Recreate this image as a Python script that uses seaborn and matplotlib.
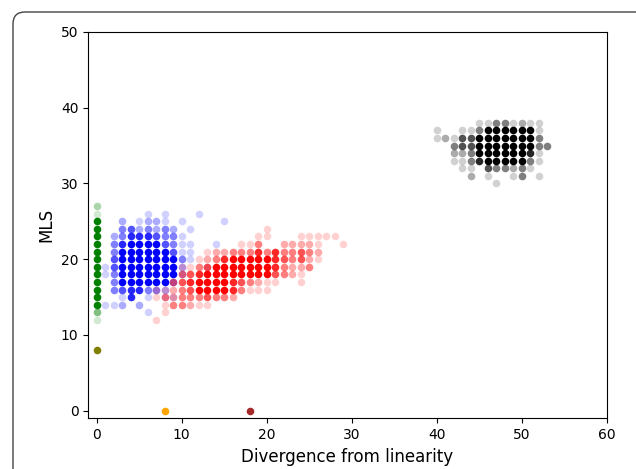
import matplotlib
matplotlib.use("Agg")
import matplotlib.pyplot as plt
from matplotlib.patches import FancyBboxPatch
from matplotlib.transforms import IdentityTransform
import seaborn as sns
import pandas as pd

# ---- data: intensity levels (1 = faint ... 6 = solid) on an integer grid ----
BLUE_X0 = 0
BLUE_ROWS = {
    26: "......1.1...1...",
    25: "...2.1221.1....1",
    24: "...3423232.1....",
    23: "..235554331.....",
    22: "..3566664311..1.",
    21: "..3666666411....",
    20: "..4666666631....",
    19: ".1466666662..1..",
    18: ".1366666662.....",
    17: "..36666663......",
    16: "..3455332.......",
    15: "...15.1.11......",
    14: ".112.2..........",
    13: "......1.........",
}

RED_X0 = 7
RED_ROWS = {
    24: ".............1.........",
    23: "............11...11111.",
    22: "..........113..22221..1",
    21: "......12233353533432...",
    20: ".....123566666543421...",
    19: "...1134666666653223....",
    18: "...345666666664321.....",
    17: "..3456666543211..1.....",
    16: "11234666653111.........",
    15: "1323334332.............",
    14: ".133211................",
    13: ".1.....................",
    12: "1......................",
}

BLACK_X0 = 40
BLACK_ROWS = {
    38: ".....11331211.",
    37: "1..1136666661.",
    36: "1214466666663.",
    35: "..344666666633",
    34: "..22366666651.",
    33: "..11356666631.",
    32: "...11.433231..",
    31: "....2.1..13.1.",
    30: ".......1......",
}

GREEN_X0 = 0
GREEN_Y0 = 12
GREEN_LEVELS = "13666666666666" + "12"

SINGLE_X = [0, 8, 18]
SINGLE_Y = [8, 0, 0]
SINGLE_COLORS = ["olive", "orange", "brown"]

COLORS = {"blue": "blue", "red": "red", "black": "black", "green": "green"}
ALPHA = {1: 0.18, 2: 0.33, 3: 0.5, 4: 0.68, 5: 0.85, 6: 1.0}


def grid_to_records(rows, x0, name):
    recs = []
    for y, s in rows.items():
        for i, ch in enumerate(s):
            if ch != ".":
                recs.append((x0 + i, y, name, int(ch)))
    return recs


records = []
for y_off, ch in enumerate(GREEN_LEVELS):
    records.append((GREEN_X0, GREEN_Y0 + y_off, "green", int(ch)))
records += grid_to_records(BLUE_ROWS, BLUE_X0, "blue")
records += grid_to_records(RED_ROWS, RED_X0, "red")
records += grid_to_records(BLACK_ROWS, BLACK_X0, "black")
df = pd.DataFrame(records, columns=["x", "y", "cluster", "level"])

# ---- figure ----
fig = plt.figure(figsize=(6.36, 4.69), dpi=100)
ax = fig.add_axes([0.1388, 0.108, 0.815, 0.824])

S = 30
for cluster in ["green", "blue", "red", "black"]:
    sub = df[df["cluster"] == cluster]
    for lvl in sorted(sub["level"].unique()):
        part = sub[sub["level"] == lvl]
        sns.scatterplot(data=part, x="x", y="y", color=COLORS[cluster],
                        alpha=ALPHA[lvl], s=S, linewidth=0, ax=ax, legend=False)

singles = pd.DataFrame({"x": SINGLE_X, "y": SINGLE_Y, "c": SINGLE_COLORS})
for _, r in singles.iterrows():
    sns.scatterplot(x=[r["x"]], y=[r["y"]], color=r["c"], s=S, linewidth=0,
                    ax=ax, legend=False)

ax.set_xlim(-1, 60)
ax.set_ylim(-1, 50)
ax.set_xticks([0, 10, 20, 30, 40, 50, 60])
ax.set_yticks([0, 10, 20, 30, 40, 50])
ax.tick_params(labelsize=10)
ax.set_xlabel("Divergence from linearity", fontsize=12)
ax.set_ylabel("MLS", fontsize=12)

border = FancyBboxPatch((13, -60), 700, 457 + 60,
                        boxstyle="round,pad=0,rounding_size=12",
                        transform=IdentityTransform(), fill=False,
                        edgecolor="#444444", linewidth=1.0)
fig.patches.append(border)

fig.savefig("out.png", dpi=100)
